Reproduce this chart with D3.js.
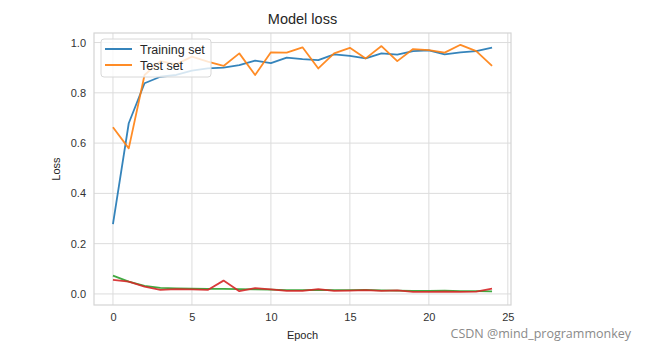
<!DOCTYPE html>
<html><head><meta charset="utf-8">
<script src="https://cdn.jsdelivr.net/npm/d3@7"></script>
<style>body{margin:0;background:#fff;} svg{display:block;font-family:"Liberation Sans",Arial,sans-serif;}</style>
</head><body>
<svg id="chart" width="650" height="350"></svg>
<script>
const epochs = d3.range(25);
const trainingSet = [0.278,0.679,0.838,0.864,0.871,0.888,0.897,0.900,0.910,0.928,0.918,0.940,0.934,0.930,0.953,0.947,0.937,0.957,0.952,0.966,0.969,0.953,0.961,0.966,0.980];
const testSet = [0.663,0.579,0.871,0.926,0.913,0.944,0.924,0.907,0.957,0.871,0.961,0.960,0.981,0.897,0.957,0.979,0.937,0.986,0.926,0.974,0.970,0.960,0.991,0.966,0.907];
const greenSeries = [0.073,0.049,0.032,0.024,0.022,0.021,0.020,0.020,0.019,0.018,0.017,0.015,0.015,0.016,0.015,0.015,0.016,0.014,0.013,0.012,0.012,0.013,0.011,0.011,0.010];
const redSeries = [0.056,0.049,0.029,0.016,0.019,0.018,0.016,0.053,0.011,0.023,0.018,0.012,0.012,0.019,0.012,0.013,0.015,0.012,0.014,0.008,0.008,0.009,0.008,0.009,0.021];
const xTicks = [0,5,10,15,20,25];
const yTicks = [0.0,0.2,0.4,0.6,0.8,1.0];
const legendLabels = ["Training set","Test set"];
const colors = ["#1f77b4","#ff7f0e","#2ca02c","#d62728"];

const svg = d3.select("#chart");
const L = 94, R = 511, T = 33, B = 305;
const x = d3.scaleLinear().domain([-1.2, 25.2]).range([L, R]);
const y = d3.scaleLinear().domain([-0.044, 1.038]).range([B, T]);

const g = svg.append("g");
g.selectAll(".vg").data(xTicks).join("line")
  .attr("x1", d => x(d)).attr("x2", d => x(d)).attr("y1", T).attr("y2", B)
  .attr("stroke", "#dcdcdc").attr("stroke-width", 1);
g.selectAll(".hg").data(yTicks).join("line")
  .attr("x1", L).attr("x2", R).attr("y1", d => y(d)).attr("y2", d => y(d))
  .attr("stroke", "#dcdcdc").attr("stroke-width", 1);
g.append("rect").attr("x", L).attr("y", T).attr("width", R - L).attr("height", B - T)
  .attr("fill", "none").attr("stroke", "#d4d4d4").attr("stroke-width", 1.2);

const xAxis = d3.axisBottom(x).tickValues(xTicks).tickSize(0).tickPadding(8).tickFormat(d3.format("d"));
const yAxis = d3.axisLeft(y).tickValues(yTicks).tickSize(0).tickPadding(8).tickFormat(d3.format(".1f"));
const gx = svg.append("g").attr("transform", `translate(0,${B})`).call(xAxis);
const gy = svg.append("g").attr("transform", `translate(${L},0)`).call(yAxis);
[gx, gy].forEach(a => {
  a.select(".domain").remove();
  a.selectAll("text").attr("fill", "#333").style("font-size", "11px").style("font-family", '"Liberation Sans",Arial,sans-serif');
});

const line = d3.line().x((d, i) => x(epochs[i])).y(d => y(d));
[trainingSet, testSet, greenSeries, redSeries].forEach((s, k) => {
  svg.append("path").datum(s).attr("d", line).attr("fill", "none")
    .attr("stroke", colors[k]).attr("stroke-width", 1.8).attr("stroke-linejoin", "round").attr("opacity", 0.9);
});

svg.append("text").attr("x", (L + R) / 2).attr("y", 24).attr("text-anchor", "middle")
  .attr("fill", "#262626").style("font-size", "14.5px").text("Model loss");
svg.append("text").attr("x", (L + R) / 2).attr("y", 339).attr("text-anchor", "middle")
  .attr("fill", "#262626").style("font-size", "11px").text("Epoch");
svg.append("text").attr("transform", `translate(60,${(T + B) / 2}) rotate(-90)`).attr("text-anchor", "middle")
  .attr("fill", "#262626").style("font-size", "11px").text("Loss");

const lg = svg.append("g");
lg.append("rect").attr("x", 101).attr("y", 39).attr("width", 110).attr("height", 38).attr("rx", 3)
  .attr("fill", "#fff").attr("fill-opacity", 0.8).attr("stroke", "#d8d8d8").attr("stroke-width", 1);
legendLabels.forEach((lab, i) => {
  const yy = 49 + i * 16;
  lg.append("line").attr("x1", 105).attr("x2", 132).attr("y1", yy).attr("y2", yy)
    .attr("stroke", colors[i]).attr("stroke-width", 1.8);
  lg.append("text").attr("x", 140).attr("y", yy + 4.5).attr("fill", "#262626").style("font-size", "12.5px").text(lab);
});

svg.append("text").attr("x", 631).attr("y", 338).attr("text-anchor", "end")
  .attr("fill", "#8a8a8a").style("font-size", "12.5px").style("font-family", '"Open Sans","Noto Sans",sans-serif')
  .text("CSDN @mind_programmonkey");
</script>
</body></html>
